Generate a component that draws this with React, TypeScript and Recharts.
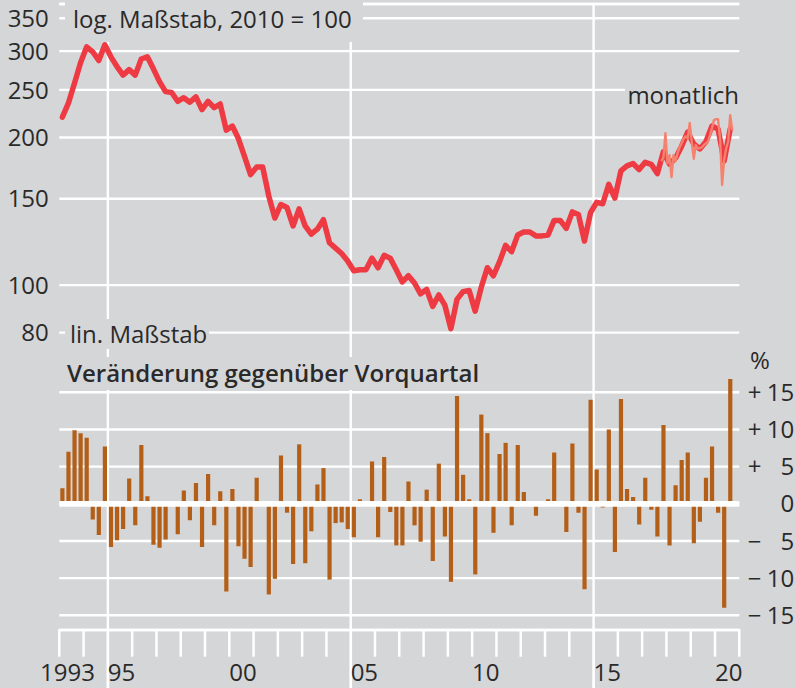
import React from 'react';
import { ComposedChart, Line, Bar, XAxis, YAxis, CartesianGrid, ReferenceLine } from 'recharts';

// ---------- data ----------
const START_YEAR = 1993; // first quarter: 1993 Q1

// index level (log scale, 2010 = 100), quarterly, 1993Q1 .. 2020Q3
const LEVEL_Q = [
  220, 235, 258, 284,
  306, 299, 287, 309,
  292, 279, 268, 275,
  268, 289, 292, 276,
  260, 248, 247, 237,
  241, 236, 242, 228,
  237, 230, 234, 207,
  211, 199, 183, 168,
  174, 174, 152, 137,
  146, 144, 132, 143,
  132, 127, 130, 136,
  122, 119, 116, 112,
  107, 107.5, 107.5, 113.5,
  108.5, 115, 113.5, 107.5,
  101.5, 104.5, 101, 96,
  98, 90.5, 95.5, 91,
  81.5, 93.5, 97, 97.5,
  88.5, 99, 108.5, 104.5,
  111.5, 120.5, 117, 126.5,
  128.3, 128.3, 126, 126,
  126.5, 135.5, 135.5, 130.5,
  141, 139.3, 123, 140.5,
  147.5, 146.5, 160.5, 150.5,
  171, 175, 177, 172,
  178, 176.3, 168.8, 187,
  176.5, 181.5, 192, 205,
  194, 189.5, 196, 211,
  208, 179, 208,
];

// change vs previous quarter, %
const CHANGE_Q = [
  2.1, 7.0, 9.9, 9.5,
  8.9, -2.1, -4.2, 7.7,
  -5.8, -4.9, -3.4, 3.4,
  -2.9, 7.9, 1.0, -5.5,
  -5.9, -4.8, 0.2, -4.1,
  1.8, -2.2, 2.8, -5.8,
  4.0, -2.9, 1.7, -11.8,
  2.0, -5.7, -7.4, -8.5,
  3.5, 0.1, -12.2, -10.1,
  6.5, -1.2, -8.1, 8.0,
  -8.0, -3.7, 2.6, 4.8,
  -10.2, -2.6, -2.5, -3.4,
  -4.5, 0.6, 0.1, 5.7,
  -4.5, 6.3, -1.1, -5.6,
  -5.6, 3.0, -2.9, -5.1,
  1.9, -7.7, 5.4, -4.4,
  -10.5, 14.5, 3.9, 0.6,
  -9.5, 12.0, 9.5, -3.9,
  6.7, 8.2, -2.9, 7.9,
  1.6, 0.1, -1.6, -0.1,
  0.6, 6.9, 0.1, -3.8,
  8.1, -1.2, -11.5, 14.0,
  4.6, -0.5, 10.0, -6.5,
  14.1, 2.0, 0.9, -2.8,
  3.5, -0.8, -4.4, 10.6,
  -5.6, 2.5, 5.9, 6.9,
  -5.3, -2.4, 3.5, 7.7,
  -1.2, -14.0, 16.8,
];

// monthly level, Oct 2017 .. Sep 2020
const MONTHLY_START_YEAR = 2017;
const MONTHLY_START_MONTH = 10;
const LEVEL_M = [
  179, 182, 204,
  177, 184, 166, 184, 179, 186, 191, 194.5, 199, 201, 199, 214,
  196, 181, 193, 190, 190, 191, 193, 194.5, 196, 202, 209, 217,
  218, 218, 199, 160, 180, 190, 196, 222, 207,
];

const LOG_TICKS = [80, 100, 150, 200, 250, 300, 350];
const CHG_TICKS = [-15, -10, -5, 0, 5, 10, 15];
const YEAR_TICKS = [
  1993, 1994, 1995, 1996, 1997, 1998, 1999, 2000, 2001, 2002, 2003, 2004, 2005, 2006, 2007,
  2008, 2009, 2010, 2011, 2012, 2013, 2014, 2015, 2016, 2017, 2018, 2019, 2020, 2021,
];
const YEAR_LABELS: Record<number, string> = {
  1993: '1993', 1995: '95', 2000: '00', 2005: '05', 2010: '10', 2015: '15', 2020: '20',
};
const FULL_LINE_YEARS = [1995, 2005, 2015];

const quarterly = LEVEL_Q.map((v, i) => ({
  t: START_YEAR + (i + 0.5) / 4,
  level: v,
  change: CHANGE_Q[i],
}));
const monthly = LEVEL_M.map((v, i) => ({
  t: MONTHLY_START_YEAR + (MONTHLY_START_MONTH - 1 + i + 0.5) / 12,
  m: v,
}));

// ---------- layout / style ----------
const W = 796;
const H = 688;
const LEFT_W = 59.3;
const RIGHT_W = 56.7;
const TOP = 4;
const XAXIS_H = 58;
const PLOT_W = W - LEFT_W - RIGHT_W;
const HALF_YEAR_PX = PLOT_W / (YEAR_TICKS.length - 1) / 2;
const X_DOMAIN: [number, number] = [YEAR_TICKS[0], YEAR_TICKS[YEAR_TICKS.length - 1]];

const LOG_DOMAIN: [number, number] = [19.81, 374.2];
const CHG_DOMAIN: [number, number] = [-16.98, 67.24];

const BG = '#d5d6d8';
const WHITE = '#ffffff';
const TEXT = '#2a2a2a';
const RED = '#ee3a43';
const SALMON = '#f5826f';
const BROWN = '#b45f18';
const FONT = '"Open Sans", "Noto Sans", sans-serif';
const FS = 24;

const LeftTick = (props: any) => {
  const { x, y, payload } = props;
  return (
    <text x={x - 10.5} y={y} dy="0.36em" textAnchor="end" fontSize={FS} fill={TEXT} fontFamily={FONT}>
      {payload.value}
    </text>
  );
};

const RightTick = (props: any) => {
  const { x, y, payload } = props;
  const v: number = payload.value;
  const sign = v > 0 ? '+' : v < 0 ? '\u2212' : '';
  return (
    <g>
      {sign && (
        <text x={x + 8.5} y={y} dy="0.36em" textAnchor="start" fontSize={FS} fill={TEXT} fontFamily={FONT}>
          {sign}
        </text>
      )}
      <text x={x + 55} y={y} dy="0.36em" textAnchor="end" fontSize={FS} fill={TEXT} fontFamily={FONT}>
        {Math.abs(v)}
      </text>
    </g>
  );
};

const XTick = (props: any) => {
  const { x, y, payload } = props;
  const yr: number = payload.value;
  const full = FULL_LINE_YEARS.includes(yr);
  const label = YEAR_LABELS[yr];
  const lx = yr === 1993 ? x + HALF_YEAR_PX - 4 : x + HALF_YEAR_PX + 1.5;
  return (
    <g>
      <line x1={x} x2={x} y1={y - 1} y2={full ? H : y + 26.7} stroke={WHITE} strokeWidth={full ? 2.7 : 2.5} />
      {label && (
        <text x={lx} y={H - 7} textAnchor="middle" fontSize={FS} fill={TEXT} fontFamily={FONT}>
          {label}
        </text>
      )}
    </g>
  );
};

export default function App() {
  return (
    <div style={{ position: 'absolute', left: 0, top: 0, width: W, height: H, background: BG, overflow: 'hidden' }}>
      <ComposedChart
        width={W}
        height={H}
        data={quarterly}
        margin={{ top: TOP, right: 0, left: 0, bottom: 0 }}
      >
        <CartesianGrid
          yAxisId="lvl"
          stroke={WHITE}
          strokeWidth={2.4}
          vertical={true}
          verticalValues={FULL_LINE_YEARS}
          horizontal={true}
        />
        <CartesianGrid yAxisId="chg" stroke={WHITE} strokeWidth={2.4} vertical={false} horizontal={true} />
        <XAxis
          dataKey="t"
          type="number"
          domain={X_DOMAIN}
          ticks={YEAR_TICKS}
          interval={0}
          allowDataOverflow
          height={XAXIS_H}
          axisLine={false}
          tickLine={false}
          tickSize={0}
          tickMargin={0}
          tick={<XTick />}
        />
        <XAxis
          xAxisId="q"
          dataKey="t"
          type="number"
          domain={X_DOMAIN}
          allowDataOverflow
          hide
        />
        <YAxis
          yAxisId="lvl"
          orientation="left"
          type="number"
          scale="log"
          domain={LOG_DOMAIN}
          allowDataOverflow
          ticks={LOG_TICKS}
          interval={0}
          width={LEFT_W}
          axisLine={false}
          tickLine={false}
          tickSize={0}
          tickMargin={0}
          tick={<LeftTick />}
        />
        <YAxis
          yAxisId="chg"
          orientation="right"
          type="number"
          domain={CHG_DOMAIN}
          allowDataOverflow
          ticks={CHG_TICKS}
          interval={0}
          width={RIGHT_W}
          axisLine={false}
          tickLine={false}
          tickSize={0}
          tickMargin={0}
          tick={<RightTick />}
        />
        <Bar xAxisId="q" yAxisId="chg" dataKey="change" fill={BROWN} barSize={4.2} isAnimationActive={false} />
        <ReferenceLine yAxisId="chg" y={0} stroke={WHITE} strokeWidth={5.7} zIndex={350} />
        <Line
          yAxisId="lvl"
          dataKey="level"
          type="linear"
          stroke={RED}
          strokeWidth={5.5}
          strokeLinejoin="round"
          strokeLinecap="round"
          dot={false}
          activeDot={false}
          isAnimationActive={false}
        />
        <Line
          yAxisId="lvl"
          data={monthly}
          dataKey="m"
          type="linear"
          stroke={SALMON}
          strokeWidth={2.4}
          strokeLinejoin="round"
          dot={false}
          activeDot={false}
          isAnimationActive={false}
        />
      </ComposedChart>
      <svg
        width={W}
        height={H}
        style={{ position: 'absolute', left: 0, top: 0, pointerEvents: 'none' }}
        fontFamily={FONT}
      >
        <rect x={65} y={0} width={298} height={42} fill={BG} />
        <text x={73} y={28} fontSize={FS} fill={TEXT}>log. Maßstab, 2010 = 100</text>
        <rect x={625} y={80} width={120} height={28} fill={BG} />
        <text x={739} y={104} fontSize={FS} fill={TEXT} textAnchor="end">monatlich</text>
        <rect x={65} y={319} width={144} height={30} fill={BG} />
        <text x={70} y={343} fontSize={FS} fill={TEXT}>lin. Maßstab</text>
        <rect x={62} y={357} width={436} height={33} fill={BG} />
        <text x={67} y={382} fontSize={24} fontWeight={600} fill={TEXT}>Veränderung gegenüber Vorquartal</text>
        <text x={750} y={369} fontSize={FS} fill={TEXT}>%</text>
      </svg>
    </div>
  );
}
